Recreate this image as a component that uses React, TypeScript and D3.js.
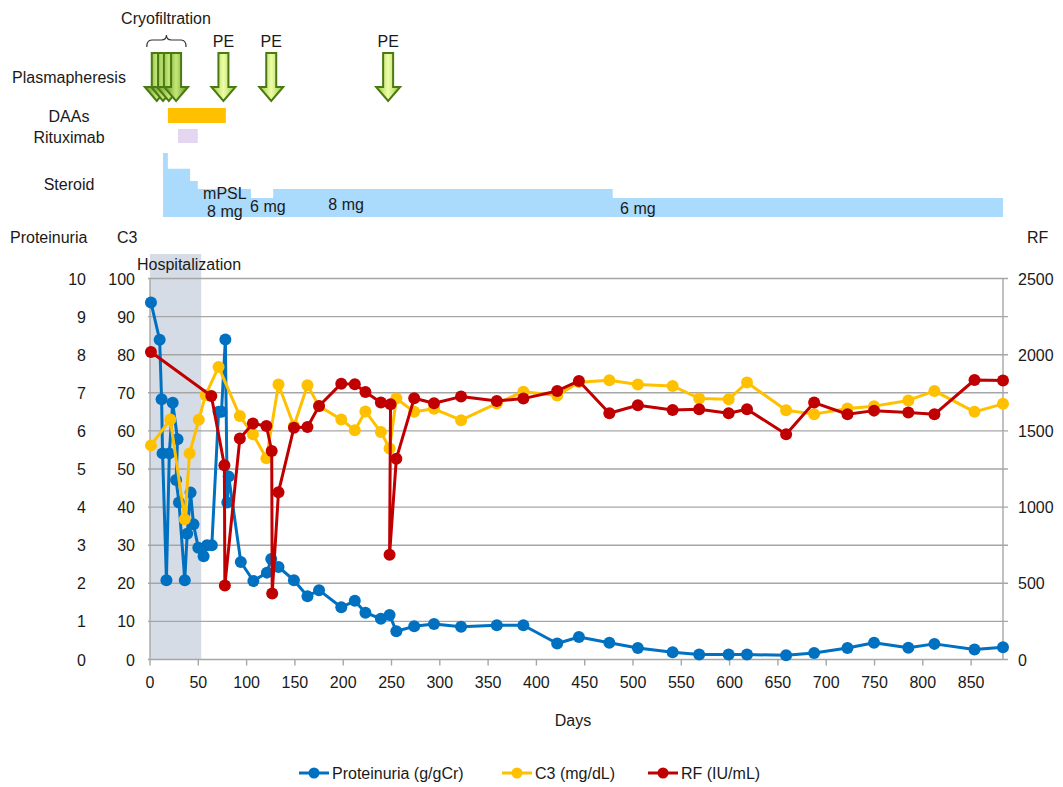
import React from "react";
import * as d3 from "d3";

// Proteinuria (g/gCr)
const protDays = [1, 10, 12, 13, 17, 20, 23.5, 28.5, 27, 30, 36, 38.5, 42, 45, 50, 55.5, 59, 64, 71, 74, 78, 80, 81.5, 94, 107, 121, 125.5, 133, 149, 163, 175, 198, 212, 223, 239, 248, 255, 273.5, 294, 322, 359, 386.5, 421.5, 444, 475.5, 505, 541, 568.5, 599, 618, 658.5, 687.5, 722, 749.5, 785, 812, 853.5, 883];
const protValues = [9.37, 8.39, 6.83, 5.41, 2.08, 5.41, 6.74, 5.78, 4.71, 4.12, 2.08, 3.3, 4.38, 3.55, 2.93, 2.71, 3.0, 3.0, 6.5, 6.5, 8.4, 4.12, 4.8, 2.56, 2.06, 2.28, 2.64, 2.43, 2.08, 1.66, 1.82, 1.37, 1.54, 1.23, 1.07, 1.17, 0.74, 0.87, 0.93, 0.86, 0.9, 0.9, 0.42, 0.59, 0.44, 0.3, 0.19, 0.13, 0.13, 0.13, 0.11, 0.17, 0.3, 0.44, 0.31, 0.41, 0.26, 0.32];

// C3 (mg/dL)
const c3Days = [1, 21, 36, 41, 50.5, 57.5, 71, 93, 106.5, 120.5, 133, 149, 163, 175, 198, 212, 223, 239, 248, 255, 273.5, 294, 322, 359, 386.5, 421.5, 444, 475.5, 505, 541, 568.5, 599, 618, 658.5, 687.5, 722, 749.5, 785, 812, 853.5, 883];
const c3Values = [56.2, 63, 36.8, 54.1, 62.9, 69.4, 76.8, 63.9, 59.1, 52.8, 72.2, 61.3, 72, 66.5, 63, 60.2, 65.1, 59.7, 55.4, 68.5, 65, 65.8, 62.8, 67.2, 70.3, 69.3, 72.8, 73.3, 72.2, 71.8, 68.5, 68.3, 72.7, 65.4, 64.4, 65.9, 66.5, 68, 70.5, 65, 67.1];

// RF (IU/mL)
const rfDays = [1, 63.5, 77, 77.5, 93, 106.5, 120.5, 126, 126.5, 133, 149, 163, 175, 198, 212, 223, 239, 249, 248, 255, 273.5, 294, 322, 359, 386.5, 421.5, 444, 475.5, 505, 541, 568.5, 599, 618, 658.5, 687.5, 722, 749.5, 785, 812, 853.5, 883];
const rfValues = [2018, 1729, 1274, 486, 1450, 1548, 1532, 1368, 433, 1098, 1521, 1525, 1663, 1810, 1806, 1755, 1686, 1675, 688, 1318, 1714, 1681, 1725, 1696, 1712, 1762, 1828, 1616, 1668, 1637, 1642, 1616, 1642, 1478, 1686, 1609, 1633, 1620, 1609, 1834, 1830];

// treatments
const cryoDays = [7, 13.5, 19.5, 27];
const peDays = [76, 125.5, 246.5];
const daasPeriod = [18.5, 78.5];
const rituximabPeriod = [29, 49.5];
const hospitalPeriod = [0, 53];
const steroidStarts = [13.5, 18.5, 41.5, 49.5, 104.5, 127.5, 479];
const steroidEnd = 883;
const steroidDoses = [16, 12.5, 9.8, 8, 6, 8, 6];
const steroidNoteDays = [77.5, 77.5, 122, 203, 505];
const steroidNoteText = ["mPSL", "8 mg", "6 mg", "8 mg", "6 mg"];
const steroidNoteY = [199, 217, 212, 210, 214];

const protTicks = [0, 1, 2, 3, 4, 5, 6, 7, 8, 9, 10];
const c3Ticks = [0, 10, 20, 30, 40, 50, 60, 70, 80, 90, 100];
const rfTicks = [0, 500, 1000, 1500, 2000, 2500];
const dayTicks = d3.range(0, 851, 50);

const BLUE = "#0070C0";
const YELLOW = "#FFC000";
const RED = "#C00000";
const GRID = "#A6A6A6";
const FONT = "'Liberation Sans', Arial, sans-serif";

const W = 1063;
const H = 787;
const left = 150;
const right = 1003;
const top = 278.5;
const bottom = 659.5;

export default function App() {
  const x = d3.scaleLinear().domain([0, 883]).range([left, right]);
  const yC3 = d3.scaleLinear().domain([0, 100]).range([bottom, top]);
  const yProt = d3.scaleLinear().domain([0, 10]).range([bottom, top]);
  const yRf = d3.scaleLinear().domain([0, 2500]).range([bottom, top]);
  const ySteroid = d3.scaleLinear().domain([6, 8]).range([198, 189]);
  const steroidBase = 217;

  const series = [
    { days: protDays, values: protValues, y: yProt, color: BLUE },
    { days: c3Days, values: c3Values, y: yC3, color: YELLOW },
    { days: rfDays, values: rfValues, y: yRf, color: RED },
  ];

  const steroidPts = steroidStarts.map((d, i) => [d, steroidDoses[i]]);
  steroidPts.push([steroidEnd, steroidDoses[steroidDoses.length - 1]]);
  const steroidArea = d3
    .area<number[]>()
    .x((d) => x(d[0]))
    .y0(steroidBase)
    .y1((d) => ySteroid(d[1]))
    .curve(d3.curveStepAfter)(steroidPts);

  // downward block arrow, tip at (cx, 101)
  const arrow = (cx: number) =>
    `M${cx - 5},53 L${cx + 5},53 L${cx + 5},87 L${cx + 12},87 L${cx},101 L${cx - 12},87 L${cx - 5},87 Z`;

  const bx0 = x(cryoDays[0]) - 10;
  const bx1 = x(cryoDays[cryoDays.length - 1]) + 10;
  const bm = (bx0 + bx1) / 2;
  const bracket = `M${bx0},47 Q${bx0},40 ${bx0 + 5},40 L${bm - 5},40 Q${bm},40 ${bm},35 Q${bm},40 ${bm + 5},40 L${bx1 - 5},40 Q${bx1},40 ${bx1},47`;

  const legend = [
    { label: "Proteinuria (g/gCr)", color: BLUE, x0: 299 },
    { label: "C3 (mg/dL)", color: YELLOW, x0: 502 },
    { label: "RF (IU/mL)", color: RED, x0: 648 },
  ];

  return (
    <svg
      width={W}
      height={H}
      style={{ position: "absolute", left: 0, top: 0, background: "#fff" }}
      fontFamily={FONT}
      fontSize={16}
      fill="#1a1a1a"
    >
      <defs>
        <linearGradient id="arrowFill" x1="0" x2="1" y1="0" y2="0">
          <stop offset="0" stopColor="#9CCB3A" />
          <stop offset="0.5" stopColor="#EEFCA8" />
          <stop offset="1" stopColor="#9CCB3A" />
        </linearGradient>
        <linearGradient id="cryoFill" x1="0" x2="1" y1="0" y2="0">
          <stop offset="0" stopColor="#5E9020" />
          <stop offset="0.5" stopColor="#C4E878" />
          <stop offset="1" stopColor="#5E9020" />
        </linearGradient>
      </defs>

      {/* treatment panel */}
      <text x={166} y={24} textAnchor="middle">Cryofiltration</text>
      <path d={bracket} fill="none" stroke="#333" strokeWidth={1.2} />
      {peDays.map((d, i) => (
        <text key={"pe" + i} x={x(d)} y={47} textAnchor="middle">PE</text>
      ))}
      <text x={69} y={83} textAnchor="middle">Plasmapheresis</text>
      {cryoDays.map((d, i) => (
        <path key={"cr" + i} d={arrow(x(d))} fill="url(#cryoFill)" stroke="#4A7A12" strokeWidth={2} />
      ))}
      {peDays.map((d, i) => (
        <path key={"ar" + i} d={arrow(x(d))} fill="url(#arrowFill)" stroke="#4A7A12" strokeWidth={2} />
      ))}

      <text x={69} y={122} textAnchor="middle">DAAs</text>
      <rect x={x(daasPeriod[0])} y={108} width={x(daasPeriod[1]) - x(daasPeriod[0])} height={15} fill={YELLOW} />
      <text x={69} y={143} textAnchor="middle">Rituximab</text>
      <rect x={x(rituximabPeriod[0])} y={129} width={x(rituximabPeriod[1]) - x(rituximabPeriod[0])} height={14} fill="#E4D6F0" />

      <text x={69} y={190} textAnchor="middle">Steroid</text>
      <path d={steroidArea || ""} fill="#ABDBFC" />
      {steroidNoteText.map((t, i) => (
        <text key={"sn" + i} x={x(steroidNoteDays[i])} y={steroidNoteY[i]} textAnchor="middle">{t}</text>
      ))}

      {/* axis titles */}
      <text x={10} y={243}>Proteinuria</text>
      <text x={117} y={243}>C3</text>
      <text x={1027} y={243}>RF</text>

      {/* hospitalization band */}
      <rect
        x={x(hospitalPeriod[0])}
        y={254}
        width={x(hospitalPeriod[1]) - x(hospitalPeriod[0])}
        height={bottom - 254}
        fill="#D6DCE5"
      />
      <text x={137} y={270}>Hospitalization</text>

      {/* gridlines */}
      {c3Ticks.map((t) => (
        <line key={"g" + t} x1={left - 2} x2={right + 5} y1={yC3(t)} y2={yC3(t)} stroke={GRID} strokeWidth={1.4} />
      ))}
      <line x1={left} x2={left} y1={top} y2={bottom} stroke={GRID} strokeWidth={1.4} />
      <line x1={right} x2={right} y1={top} y2={bottom} stroke={GRID} strokeWidth={1.4} />

      {/* left tick labels */}
      {protTicks.map((t) => (
        <text key={"p" + t} x={86} y={yProt(t) + 6} textAnchor="end">{t}</text>
      ))}
      {c3Ticks.map((t) => (
        <text key={"c" + t} x={135} y={yC3(t) + 6} textAnchor="end">{t}</text>
      ))}
      {rfTicks.map((t) => (
        <text key={"r" + t} x={1018} y={yRf(t) + 6}>{t}</text>
      ))}

      {/* x axis */}
      {dayTicks.map((t) => (
        <g key={"x" + t}>
          <line x1={x(t)} x2={x(t)} y1={bottom} y2={bottom + 6} stroke={GRID} strokeWidth={1.4} />
          <text x={x(t)} y={688} textAnchor="middle">{t}</text>
        </g>
      ))}
      <text x={573} y={726} textAnchor="middle">Days</text>

      {/* series */}
      {series.map((s, si) => {
        const pts = s.days.map((d, i) => [x(d), s.y(s.values[i])] as [number, number]);
        return (
          <g key={"s" + si}>
            <path d={d3.line()(pts) || ""} fill="none" stroke={s.color} strokeWidth={3} strokeLinejoin="round" />
            {pts.map((p, i) => (
              <circle key={i} cx={p[0]} cy={p[1]} r={6} fill={s.color} />
            ))}
          </g>
        );
      })}

      {/* legend */}
      {legend.map((l) => (
        <g key={l.label}>
          <line x1={l.x0} x2={l.x0 + 30} y1={773} y2={773} stroke={l.color} strokeWidth={3} />
          <circle cx={l.x0 + 15} cy={773} r={5.5} fill={l.color} />
          <text x={l.x0 + 33} y={779}>{l.label}</text>
        </g>
      ))}
    </svg>
  );
}
